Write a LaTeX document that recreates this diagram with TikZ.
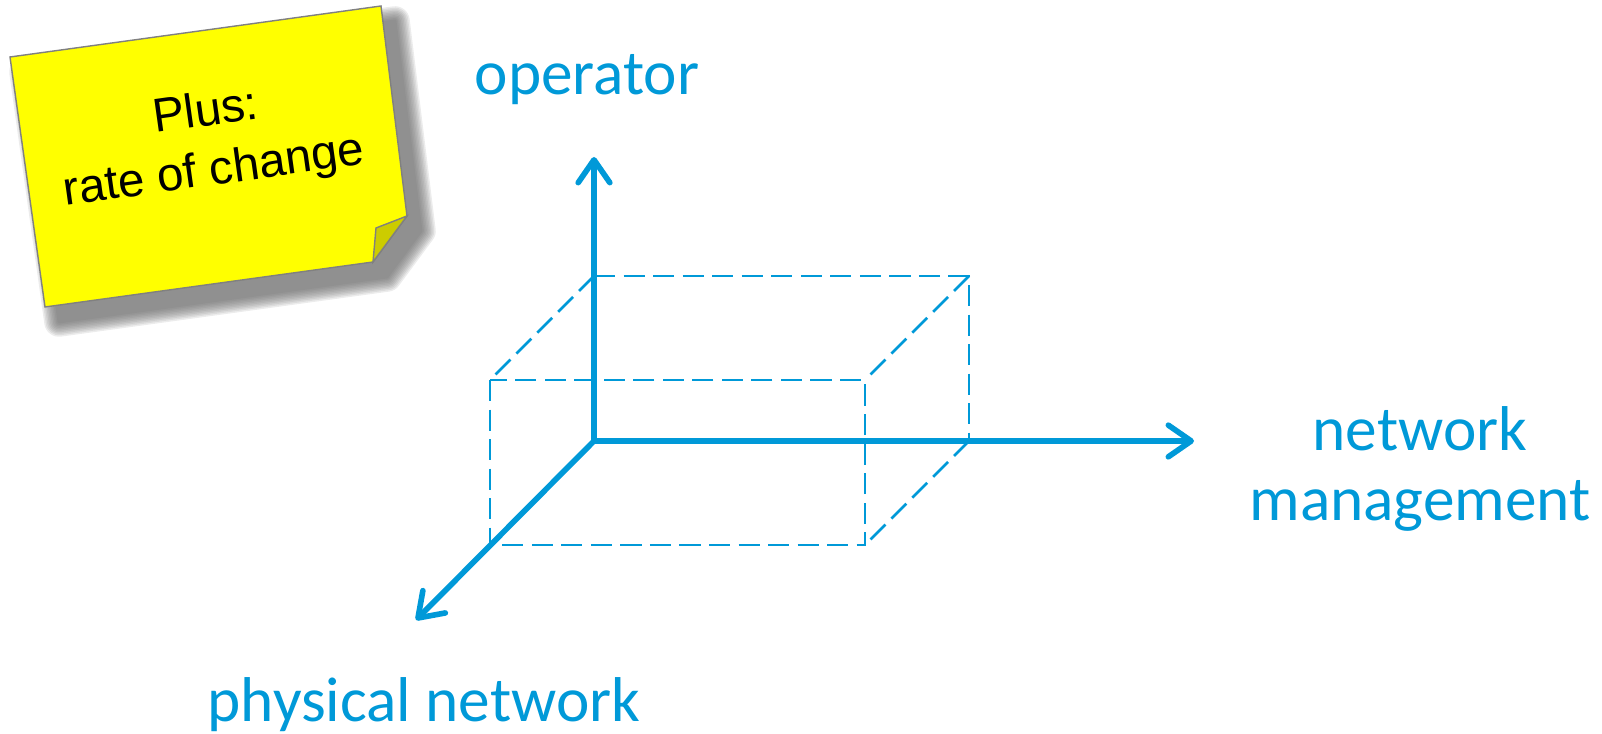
\documentclass[tikz,border=0pt]{standalone}
\usepackage{fontspec}
\setmainfont{Carlito}
\newfontfamily\notefont{Liberation Sans}
\usetikzlibrary{arrows.meta}
\definecolor{axisblue}{RGB}{0,153,216}
\definecolor{noteyellow}{RGB}{255,255,0}
\definecolor{foldyellow}{RGB}{204,204,0}
\tikzset{
  axis/.style={draw=axisblue,line width=1.6pt,line cap=round,-{Straight Barb[length=6.5pt,width=9pt,round]}},
  boxedge/.style={draw=axisblue,line width=0.8pt,dash pattern=on 6pt off 2.4pt},
  axislabel/.style={text=axisblue,font=\fontsize{18}{20}\selectfont,align=center,inner sep=0pt},
  notetext/.style={font=\notefont\fontsize{13.5}{17}\selectfont,align=center,rotate=8,inner sep=0pt}
}
\begin{document}
\begin{tikzpicture}[x=0.01cm,y=-0.01cm]
    \useasboundingbox (0,0) rectangle (1602,734);

    % Sticky note: shadow
    \foreach \w in {30,27,...,3} {
        \begin{scope}[transparency group,opacity=0.12]
        \filldraw[black!60,line width=\w*0.28pt,line join=round,shift={(14,15)}]
            (10,57) -- (381,6) -- (407,216) -- (373,262) -- (45,307) -- cycle;
        \end{scope}
    }

    % Sticky note
    \filldraw[fill=noteyellow,draw=black!50,line width=0.4pt]
        (10,57) -- (381,6) -- (407,216) -- (373,262) -- (45,307) -- cycle;
    \filldraw[fill=foldyellow,draw=black!50,line width=0.4pt]
        (376,228) -- (407,216) -- (373,262) -- cycle;
    \node[notetext] (note) at (210,143) {Plus:\\rate of change};

    % Axes end points
    \coordinate (O) at (594,441);
    \coordinate (optip) at (594,157);
    \coordinate (nmtip) at (1194,441);
    \coordinate (phtip) at (416,620);

    % Box (back face, front face, depth edges)
    \draw[boxedge] (594,276) -- (969,276) -- (969,441);
    \draw[boxedge] (490,380) rectangle (865,545);
    \draw[boxedge] (594,276) -- (490,380);
    \draw[boxedge] (969,276) -- (865,380);
    \draw[boxedge] (969,441) -- (865,545);

    % Axes
    \draw[axis] (O) -- (optip);
    \draw[axis] (O) -- (nmtip);
    \draw[axis] (O) -- (phtip);

    % Labels
    \node[axislabel] (operator) at (587,80) {operator};
    \node[axislabel] (netman) at (1420,469) {network\\management};
    \node[axislabel] (phys) at (424,705) {physical network};
\end{tikzpicture}
\end{document}
